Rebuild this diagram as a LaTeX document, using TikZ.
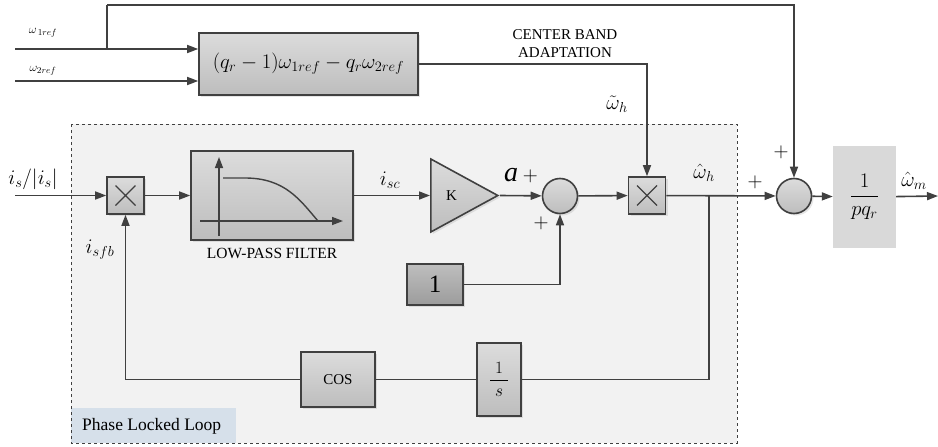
\documentclass[tikz,border=0pt]{standalone}
\usepackage{fontspec}
\setmainfont{Liberation Serif}
\usetikzlibrary{positioning, arrows.meta, calc, shapes.geometric, shadows}
\definecolor{wire}{HTML}{404040}
\definecolor{blocktop}{HTML}{DCDCDC}
\definecolor{blockbot}{HTML}{BDBDBD}
\definecolor{darktop}{HTML}{BEBEBE}
\definecolor{darkbot}{HTML}{9C9C9C}
\definecolor{pllbg}{HTML}{F2F2F2}
\definecolor{pllcap}{HTML}{D6E0EA}
\definecolor{gainbox}{HTML}{D9D9D9}
\newcommand{\pxfont}[2]{\fontsize{#1}{#2}\selectfont}
\tikzset{
  wireln/.style={draw=wire, line width=1.6pt},
  sig/.style={wireln, -{Triangle[length=11pt, width=8pt]}},
  blk/.style={draw=wire, line width=1.6pt, top color=blocktop, bottom color=blockbot,
    inner sep=0pt, drop shadow={opacity=0.2, shadow xshift=2pt, shadow yshift=-2pt}},
  blkdark/.style={blk, top color=darktop, bottom color=darkbot},
  sumnode/.style={blk, circle, minimum size=35},
  ampnode/.style={blk, isosceles triangle, isosceles triangle stretches,
    minimum width=73, minimum height=67},
  lbl/.style={inner sep=0pt, text=black}
}

\begin{document}
\begin{tikzpicture}[x=1pt, y=-1pt]
    \useasboundingbox (0,0) rectangle (938,447);
    % Phase Locked Loop
    \fill[pllbg] (71,124) rectangle (737,443);
    \fill[pllcap] (71,408) rectangle (236,443);
    \draw[wire, line width=1pt, dashed] (71,124) rectangle (737,443);
    \node[lbl, anchor=west, font=\pxfont{17.5}{20}] (plltxt) at (82,426) {Phase Locked Loop};
    % Bloecke
    \node[blk, minimum width=219, minimum height=62, font=\pxfont{20}{24}] (calc) at (308.5,64)
      {$(q_r-1)\omega_{1ref}-q_r\omega_{2ref}$};
    \node[blk, minimum size=37] (mixA) at (125.5,195.5) {};
    \node[blk, minimum width=162, minimum height=89] (lpf) at (272,195.5) {};
    \node[lbl, font=\pxfont{15.5}{18}] (lpflbl) at (272,253) {LOW-PASS FILTER};
    \node[ampnode, anchor=lower side, font=\pxfont{15}{18}] (amp) at (430,195.5) {K};
    \node[sumnode] (addA) at (560,196) {};
    \node[blk, minimum size=37] (mixB) at (647,195.5) {};
    \node[blkdark, minimum width=56, minimum height=41, font=\pxfont{25}{28}] (unit) at (435,284.5) {1};
    \node[blk, minimum width=44, minimum height=73, font=\pxfont{18}{22}] (integ) at (499,379.5)
      {$\displaystyle\frac{\;1\;}{\;s\;}$};
    \node[blk, minimum width=74, minimum height=55, font=\pxfont{15}{18}] (cosb) at (338,379.5) {COS};
    \node[sumnode] (addB) at (794,196) {};
    \node[fill=gainbox, minimum width=63, minimum height=102, inner sep=0pt, font=\pxfont{22}{26}]
      (scale) at (864.5,197) {$\displaystyle\frac{1}{pq_r}$};
    % Multiplikator-Kreuze
    \foreach \m in {mixA, mixB}
      \draw[wire, line width=1.2pt] ($(\m.center)+(-10,-10)$) -- ($(\m.center)+(10,10)$)
        ($(\m.center)+(-10,10)$) -- ($(\m.center)+(10,-10)$);
    % Tiefpass-Kennlinie
    \draw[sig, line width=1.4pt] (219,236) -- (219,157);
    \draw[sig, line width=1.4pt] (200,221) -- (343,221);
    \draw[wireln, line width=1.4pt] (223,178) -- (245,178) .. controls (285,178) and (300,200) .. (318,221);
    % Hilfspunkte
    \coordinate (isin) at (15,195.5);
    \coordinate (w1in) at (15,49);
    \coordinate (w2in) at (15,81);
    \coordinate (w1tap) at (107,49);
    \coordinate (topline) at (107,5);
    \coordinate (tap) at (709,195.5);
    \coordinate (yout) at (938,196);
    % Verbindungen
    \draw[sig] (isin) -- (mixA);
    \draw[sig] (mixA) -- (lpf);
    \draw[sig] (lpf.east) -- (amp.lower side);
    \draw[sig] (amp.apex) -- (addA);
    \draw[sig] (addA) -- (mixB);
    \draw[sig] (mixB) -- (addB);
    \draw[sig] (unit) -| (addA);
    \draw[wireln] (tap) |- (integ);
    \draw[wireln] (integ) -- (cosb);
    \draw[sig] (cosb) -| (mixA);
    \draw[sig] (w1in) -- (w1in -| calc.west);
    \draw[sig] (w2in) -- (w2in -| calc.west);
    \draw[wireln] (w1tap) -- (topline);
    \draw[sig] (topline) -| (addB);
    \draw[sig] (calc) -| (mixB);
    \draw[sig] (addB) -- (scale);
    \draw[sig] (scale) -- (yout);
    % Beschriftungen
    \node[lbl, font=\pxfont{13}{16}] (w1lbl) at (43,33) {$\omega_{\,1ref}$};
    \node[lbl, font=\pxfont{13}{16}] (w2lbl) at (43,71) {$\omega_{2ref}$};
    \node[lbl, font=\pxfont{15}{18}, align=center] (bandlbl) at (565,44) {CENTER BAND\\ADAPTATION};
    \node[lbl, font=\pxfont{20}{24}] (isinlbl) at (33,179) {$i_s\bigg/\bigg|i_s\bigg|$};
    \node[lbl, font=\pxfont{22}{26}] (isclbl) at (390,180) {$i_{sc}$};
    \node[lbl, font=\pxfont{28}{30}] (alabel) at (521,176) {\textit{a}\,{\pxfont{20}{24}$+$}};
    \node[lbl, font=\pxfont{20}{24}] (plusA) at (541,223) {$+$};
    \node[lbl, font=\pxfont{22}{26}] (isfblbl) at (100,250) {$i_{sfb}$};
    \node[lbl, font=\pxfont{20}{24}] (wtlbl) at (617,104) {$\tilde\omega_h$};
    \node[lbl, font=\pxfont{20}{24}] (whlbl) at (704,173) {$\hat\omega_h$};
    \node[lbl, font=\pxfont{20}{24}] (plusB) at (755,182) {$+$};
    \node[lbl, font=\pxfont{20}{24}] (plusC) at (781,152) {$+$};
    \node[lbl, font=\pxfont{22}{26}] (wmlbl) at (914,181) {$\hat\omega_m$};
\end{tikzpicture}
\end{document}
